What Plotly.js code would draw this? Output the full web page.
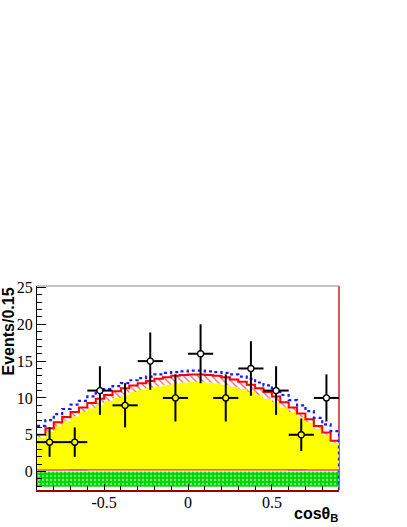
<!DOCTYPE html>
<html><head><meta charset="utf-8">
<script src="https://cdn.plot.ly/plotly-3.0.1.min.js"></script>
<style>html,body{margin:0;padding:0;background:#fff}#c{width:407px;height:527px}</style>
</head><body><div id="c"></div>
<script>
// ---- data ----
const dataX = [-0.825,-0.675,-0.525,-0.375,-0.225,-0.075,0.075,0.225,0.375,0.525,0.675,0.825];
const dataY = [4,4,11,9,15,10,16,10,14,11,5,10];
const dataErr = [2.0,2.0,3.3,3.0,3.9,3.2,4.0,3.2,3.7,3.3,2.2,3.2];
const dataXErr = [0.075,0.075,0.075,0.075,0.075,0.075,0.075,0.075,0.075,0.075,0.075,0.075];
const markerFill = ['#ffff00','#ffff00','#ffffff','#ffff00','#ffffff','#ffff00','#ffffff','#ffff00','#ffffff','#ffffff','#ffff00','#ffffff'];

// fine-binned model curves (36 bins of 0.05 from -0.9 to 0.9)
const yellowTop = [4.6,5.4,6.2,6.9,7.5,8.1,8.6,9.1,9.6,10.0,10.4,10.8,11.1,11.4,11.6,11.8,12.0,12.1,12.2,12.2,12.1,12.0,11.8,11.5,11.2,10.8,10.4,9.9,9.4,8.7,8.1,7.4,6.7,5.8,5.0,3.9];
const redTotal = [5.0,5.9,6.7,7.4,8.1,8.7,9.3,9.9,10.4,10.9,11.3,11.7,12.0,12.3,12.6,12.8,13.0,13.1,13.2,13.2,13.1,13.0,12.8,12.5,12.2,11.8,11.3,10.8,10.2,9.4,8.7,7.9,7.1,6.2,5.3,4.2];
const blueTotal = [6.2,7.0,7.8,8.5,9.1,9.6,10.2,10.7,11.2,11.6,12.0,12.4,12.7,12.9,13.2,13.4,13.5,13.6,13.7,13.7,13.6,13.5,13.4,13.2,12.9,12.6,12.1,11.7,11.1,10.4,9.7,9.0,8.2,7.3,6.4,5.5];
const greenLow = [-2.05,-2.05,-2.05,-2.05,-2.05,-2.05,-2.05,-2.05,-2.05,-2.05,-2.05,-2.05,-2.05,-2.05,-2.05,-2.05,-2.05,-2.05,-2.05,-2.05,-2.05,-2.05,-2.05,-2.05,-2.05,-2.05,-2.05,-2.05,-2.05,-2.05,-2.05,-2.05,-2.05,-2.05,-2.05,-2.05];
const greenHigh = [0,0,0,0,0,0,0,0,0,0,0,0,0,0,0,0,0,0,0,0,0,0,0,0,0,0,0,0,0,0,0,0,0,0,0,0];
const magentaLvl = [0.22,0.22,0.22,0.22,0.23,0.23,0.24,0.24,0.25,0.25,0.25,0.25,0.25,0.25,0.25,0.25,0.25,0.25,0.25,0.25,0.25,0.25,0.25,0.25,0.25,0.25,0.25,0.25,0.24,0.24,0.23,0.23,0.22,0.22,0.22,0.22];

const xTickVals = [-0.5,0,0.5];
const xTickText = ['-0.5','0','0.5'];
const yTickVals = [0,5,10,15,20,25];
const yTickText = ['0','5','10','15','20','25'];

// ---- layout helpers ----
const xMin=-0.9, xMax=0.9, yMin=-2.5, yMax=25.2, fineW=0.05;
const edges=[]; for(let i=0;i<=36;i++) edges.push(+(xMin+i*fineW).toFixed(3));
const stepY = v => v.concat([v[v.length-1]]);
const serif = 'Liberation Serif';
const sans = 'Liberation Sans';

const traces = [
  {x:edges, y:stepY(greenLow), mode:'lines', line:{shape:'hv', width:0, color:'rgba(0,0,0,0)'}, hoverinfo:'skip'},
  {x:edges, y:stepY(greenHigh), mode:'lines', line:{shape:'hv', width:0, color:'rgba(0,0,0,0)'}, fill:'tonexty',
   fillcolor:'rgb(0,215,0)', fillpattern:{shape:'.', bgcolor:'rgb(0,215,0)', fgcolor:'rgb(140,240,140)', size:4, solidity:0.25}, hoverinfo:'skip'},
  {x:edges, y:stepY(yellowTop), mode:'lines', line:{shape:'hv', width:0, color:'rgba(0,0,0,0)'}, fill:'tonexty', fillcolor:'#ffff00', hoverinfo:'skip'},
  {x:edges, y:stepY(redTotal), mode:'lines', line:{shape:'hv', width:2, color:'#ff0000'}, fill:'tonexty',
   fillcolor:'rgba(255,255,255,1)', fillpattern:{shape:'\\', bgcolor:'white', fgcolor:'rgb(255,90,90)', size:5, solidity:0.25}, hoverinfo:'skip'},
  {x:edges.concat([xMax]), y:stepY(blueTotal).concat([yMin]), mode:'lines', line:{shape:'hv', width:2.2, color:'#1a1aff', dash:'dot'}, hoverinfo:'skip'},
  {x:edges, y:stepY(magentaLvl), mode:'lines', line:{shape:'hv', width:1.6, color:'#e040e0'}, hoverinfo:'skip'},
  {x:dataX, y:dataY, mode:'markers', type:'scatter',
   marker:{symbol:'circle', size:6, color:markerFill, line:{color:'#000', width:1.3}},
   error_y:{type:'data', array:dataErr, visible:true, color:'#000', thickness:2, width:0},
   error_x:{type:'data', array:dataXErr, visible:true, color:'#000', thickness:2, width:0}}
];

const layout = {
  width:407, height:527,
  margin:{l:37, r:68, t:286, b:37},
  paper_bgcolor:'#fff', plot_bgcolor:'#fff',
  showlegend:false,
  xaxis:{range:[xMin,xMax], showgrid:false, zeroline:false, showline:true, linecolor:'#a00000', linewidth:1.5,
    ticks:'inside', ticklen:6, tickwidth:1, tickcolor:'#000', tickvals:xTickVals, ticktext:xTickText,
    ticklabelstandoff:-3,
    minor:{dtick:0.1, ticks:'inside', ticklen:4, tickcolor:'#000', tickwidth:1},
    tickfont:{family:serif, size:16, color:'#000'}, fixedrange:true},
  yaxis:{range:[yMin,yMax], showgrid:false, zeroline:false, showline:true, linecolor:'#000', linewidth:1,
    ticks:'inside', ticklen:9, tickwidth:1, tickcolor:'#000', tickvals:yTickVals, ticktext:yTickText,
    minor:{dtick:1, ticks:'inside', ticklen:4.5, tickcolor:'#000', tickwidth:1},
    tickfont:{family:serif, size:16, color:'#000'}, fixedrange:true},
  shapes:[
    {type:'line', xref:'paper', yref:'paper', x0:0, x1:1, y0:1, y1:1, line:{color:'#888', width:1}},
    {type:'line', xref:'paper', yref:'paper', x0:1, x1:1, y0:0, y1:1, line:{color:'#cc2020', width:1.5}, layer:'below'}
  ],
  annotations:[
    {text:'<b>Events/0.15</b>', xref:'paper', yref:'paper', x:0, y:1, xanchor:'right', yanchor:'top', xshift:-19, yshift:0,
     textangle:-90, showarrow:false, font:{family:sans, size:16, color:'#000'}},
    {text:'<b>cosθ<sub>B</sub></b>', xref:'paper', yref:'paper', x:1, y:0, xanchor:'right', yanchor:'top', xshift:1, yshift:-13,
     showarrow:false, font:{family:sans, size:16, color:'#000'}}
  ]
};
Plotly.newPlot('c', traces, layout, {staticPlot:true, displayModeBar:false});
</script></body></html>
